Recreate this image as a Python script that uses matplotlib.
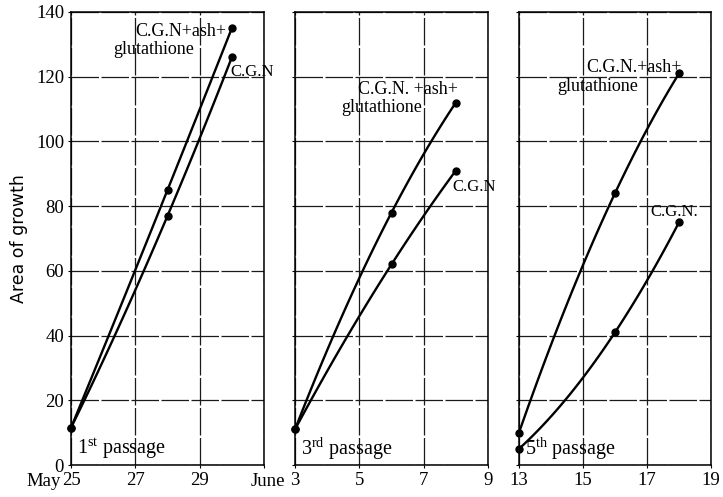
import numpy as np
import matplotlib
matplotlib.use("Agg")
import matplotlib.pyplot as plt

plt.rcParams["font.family"] = ["Liberation Serif", "DejaVu Serif"]
plt.rcParams["mathtext.fontset"] = "custom"
plt.rcParams["mathtext.rm"] = "Liberation Serif"
plt.rcParams["mathtext.it"] = "Liberation Serif"

# Days of measurement for each passage
days_p1 = [25, 28, 30]      # May
days_p3 = [3, 6, 8]         # June
days_p5 = [13, 16, 18]      # June

# Area of growth: C.G.N. + ash + glutathione
ash_p1 = [11.5, 85, 135]
ash_p3 = [11, 78, 112]
ash_p5 = [10, 84, 121]

# Area of growth: C.G.N. alone
cgn_p1 = [11.5, 77, 126]
cgn_p3 = [11, 62, 91]
cgn_p5 = [5, 41, 75]

xlims = [(25, 31), (3, 9), (13, 19)]
xticks = [[25, 27, 29, 31], [3, 5, 7, 9], [13, 15, 17, 19]]
xticklabels = [["25", "27", "29", ""], ["3", "5", "7", "9"], ["13", "15", "17", "19"]]
month_labels = ["May", "June", None]
yticks = [0, 20, 40, 60, 80, 100, 120, 140]
passage_num = ["1", "3", "5"]
passage_sup = ["st", "rd", "th"]

panels = [
    (days_p1, ash_p1, cgn_p1),
    (days_p3, ash_p3, cgn_p3),
    (days_p5, ash_p5, cgn_p5),
]

# label placement (data coords): (line1 x, y), (line2 x, y), (cgn label x, y)
label_pos = [
    ((27.0, 134), (26.3, 128.5), (29.95, 121.5)),
    ((4.95, 116), (4.45, 110.5), (7.88, 85.8)),
    ((15.1, 123), (14.2, 117), (17.12, 78.3)),
]
line1_text = ["C.G.N+ash+", "C.G.N. +ash+", "C.G.N.+ash+"]
cgn_text = ["C.G.N", "C.G.N", "C.G.N."]

fig = plt.figure(figsize=(7.23, 4.97), dpi=100)
lefts = [71 / 723, 295 / 723, 519 / 723]
widths = [193 / 723, 193 / 723, 192 / 723]
bottom = 1 - 465 / 497
height = 453 / 497


def smooth(xs, ys):
    coef = np.polyfit(xs, ys, 2)
    xx = np.linspace(xs[0], xs[-1], 100)
    return xx, np.polyval(coef, xx)


for i, (days, ash, cgn) in enumerate(panels):
    ax = fig.add_axes([lefts[i], bottom, widths[i], height])
    ax.set_xlim(*xlims[i])
    ax.set_ylim(0, 140)
    ax.set_xticks(xticks[i])
    ax.set_xticklabels(xticklabels[i], fontsize=13.5)
    ax.set_yticks(yticks)
    if i == 0:
        ax.set_yticklabels([str(v) for v in yticks], fontsize=13.5)
        ax.set_ylabel("Area of growth", fontsize=12.5, family="DejaVu Sans", labelpad=6)
    else:
        ax.set_yticklabels([])
    ax.tick_params(length=2, width=0.8, pad=3, color="black")
    for s in ax.spines.values():
        s.set_linewidth(1.1)
        s.set_color("black")
    ax.grid(True, color="#1a1a1a", linewidth=0.9, linestyle=(0, (22, 2)))
    ax.set_axisbelow(True)

    for ys in (ash, cgn):
        xx, yy = smooth(days, ys)
        ax.plot(xx, yy, color="black", linewidth=1.7, solid_capstyle="round")
        ax.plot(days, ys, "o", color="black", markersize=5, clip_on=False)

    (l1x, l1y), (l2x, l2y), (cx, cy) = label_pos[i]
    ax.text(l1x, l1y, line1_text[i], fontsize=13, ha="left", va="center")
    ax.text(l2x, l2y, "glutathione", fontsize=13, ha="left", va="center")
    ax.text(cx, cy, cgn_text[i], fontsize=12, ha="left", va="center")

    ax.text(xlims[i][0] + 0.2, 3.3,
            passage_num[i] + r"$^{\mathrm{" + passage_sup[i] + "}}$ passage",
            fontsize=14.5, ha="left", va="baseline")

    if month_labels[i]:
        ax.annotate(month_labels[i], xy=(xticks[i][0], 0), xycoords="data",
                    xytext=(-7, -12), textcoords="offset points",
                    ha="right", va="center", fontsize=13.5, annotation_clip=False)

fig.savefig("out.png", dpi=100)
